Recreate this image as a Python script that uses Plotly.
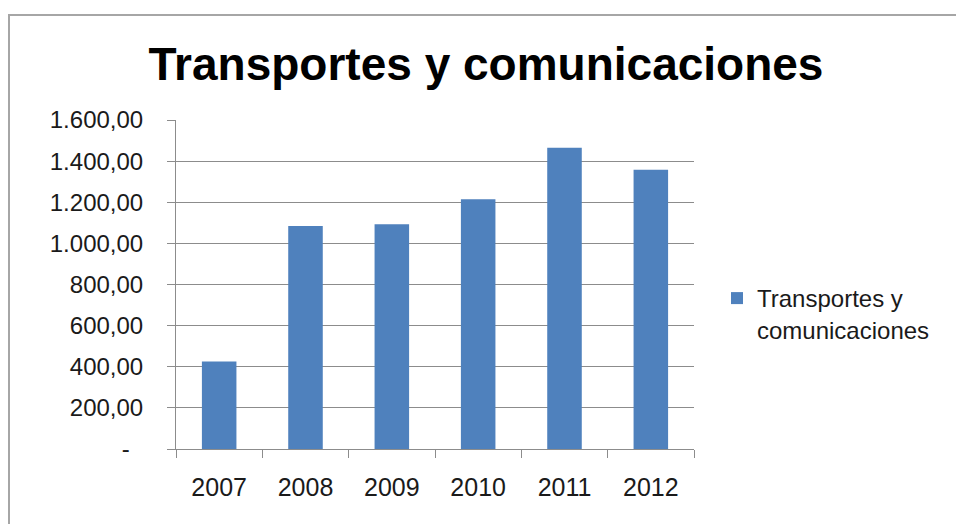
import plotly.graph_objects as go

years = ["2007", "2008", "2009", "2010", "2011", "2012"]
values = [425, 1085, 1093, 1214, 1465, 1358]
series_name = "Transportes y comunicaciones"
y_ticks = [0, 200, 400, 600, 800, 1000, 1200, 1400, 1600]


def fmt_es(v):
    if v == 0:
        return "-\u2007"
    s = f"{v:,.2f}"
    return s.replace(",", "X").replace(".", ",").replace("X", ".")


y_ticktext = [fmt_es(v) for v in y_ticks]

W, H = 956, 524
L, R, T, B = 176, 694, 120, 449
pw, ph = R - L, B - T

fig = go.Figure()
fig.add_trace(go.Bar(
    x=years, y=values, name="Transportes y<br>comunicaciones",
    marker=dict(color="#4F81BD", line=dict(width=0)),
    showlegend=True,
))

axis_col = "#8c8c8c"
fig.update_layout(
    width=W, height=H,
    margin=dict(l=L, r=W - R, t=T, b=H - B, pad=0),
    paper_bgcolor="white", plot_bgcolor="white",
    font=dict(family="Liberation Sans, Arial, sans-serif", size=24, color="#1a1a1a"),
    title=dict(text="<b>" + series_name + "</b>", x=486 / W, xanchor="center",
               y=1 - 64 / H, yanchor="middle",
               font=dict(size=46, color="black", family="Liberation Sans, Arial, sans-serif")),
    bargap=0.6,
    showlegend=True,
    legend=dict(x=(717 - L) / pw, xanchor="left", y=(B - 314) / ph, yanchor="middle",
                font=dict(size=24, color="#1a1a1a"), bgcolor="rgba(0,0,0,0)",
                valign="top", itemsizing="constant"),
    xaxis=dict(type="category", showline=True, linecolor=axis_col, linewidth=1,
               ticks="outside", ticklen=8, tickcolor=axis_col, tickwidth=1,
               tickson="boundaries", showgrid=False, zeroline=False,
               tickfont=dict(size=25),
               ticklabelstandoff=16, fixedrange=True),
    yaxis=dict(range=[0, 1600], tickvals=y_ticks, ticktext=y_ticktext,
               showline=True, linecolor=axis_col, linewidth=1,
               ticks="outside", ticklen=8, tickcolor=axis_col, tickwidth=1,
               showgrid=True, gridcolor=axis_col, gridwidth=1, zeroline=False,
               ticklabelstandoff=19, fixedrange=True),
    shapes=[dict(type="rect", xref="paper", yref="paper",
                 x0=(9 - L) / pw, x1=(1300 - L) / pw,
                 y0=(B - 700) / ph, y1=(B - 15) / ph,
                 line=dict(color="#a6a6a6", width=2), fillcolor="rgba(0,0,0,0)",
                 layer="below")],
)

fig.write_html("out.html", config=dict(displayModeBar=False),
               post_script="document.body.style.margin='0';document.body.style.overflow='hidden';")
